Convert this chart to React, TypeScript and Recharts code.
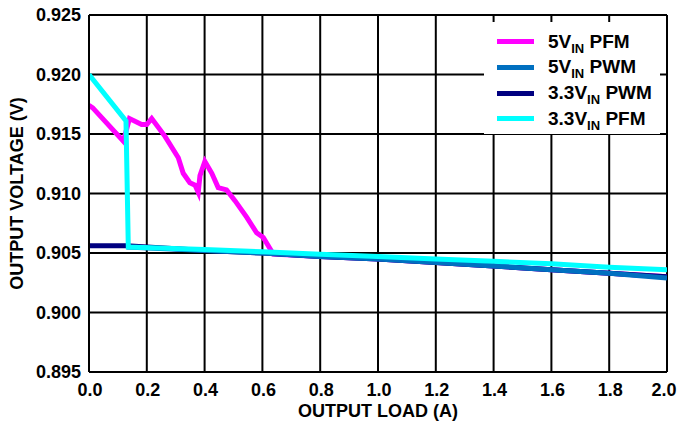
import React from "react";
import { LineChart, Line, XAxis, YAxis, CartesianGrid, Label } from "recharts";

const xTicks = [0, 0.2, 0.4, 0.6, 0.8, 1.0, 1.2, 1.4, 1.6, 1.8, 2.0];
const yTicks = [0.895, 0.9, 0.905, 0.91, 0.915, 0.92, 0.925];

// 5V PFM
const pfm5Load = [0.0, 0.013, 0.119, 0.14, 0.182, 0.2, 0.217, 0.263, 0.309, 0.326, 0.349, 0.367, 0.378, 0.384, 0.401, 0.425, 0.447, 0.476, 0.505, 0.546, 0.58, 0.603, 0.638, 0.8, 1.0, 1.2, 1.4, 1.6, 1.8, 2.0];
const pfm5Vout = [0.9174, 0.9172, 0.9144, 0.9163, 0.9158, 0.9158, 0.9163, 0.9148, 0.913, 0.9117, 0.9109, 0.9107, 0.9101, 0.9115, 0.9127, 0.9117, 0.9105, 0.9103, 0.9094, 0.908, 0.9067, 0.9063, 0.9049, 0.9047, 0.9045, 0.9042, 0.9039, 0.9036, 0.9033, 0.903];

// 5V PWM
const pwm5Load = [0.13, 0.4, 0.6, 0.8, 1.0, 1.2, 1.4, 1.6, 1.8, 2.0];
const pwm5Vout = [0.9055, 0.9052, 0.905, 0.9047, 0.9045, 0.9042, 0.9039, 0.9036, 0.9033, 0.9029];

// 3.3V PWM
const pwm33Load = [0.0, 0.13, 0.4, 0.6, 0.8, 1.0, 1.2, 1.4, 1.6, 1.8, 2.0];
const pwm33Vout = [0.9056, 0.9056, 0.9052, 0.905, 0.9047, 0.9045, 0.9042, 0.9039, 0.9036, 0.9033, 0.903];

// 3.3V PFM
const pfm33Load = [0.0, 0.128, 0.136, 0.4, 0.6, 0.8, 1.0, 1.2, 1.4, 1.6, 1.8, 2.0];
const pfm33Vout = [0.92, 0.9161, 0.9055, 0.9053, 0.9051, 0.9049, 0.9047, 0.9045, 0.9043, 0.9041, 0.9038, 0.9036];

const toPoints = (xs: number[], ys: number[]) => xs.map((x, i) => ({ x, y: ys[i] }));

const series = [
  { name: "5V", mode: "PFM", color: "#FF00FF", data: toPoints(pfm5Load, pfm5Vout), z: 0 },
  { name: "5V", mode: "PWM", color: "#0070C0", data: toPoints(pwm5Load, pwm5Vout), z: 2 },
  { name: "3.3V", mode: "PWM", color: "#000080", data: toPoints(pwm33Load, pwm33Vout), z: 1 },
  { name: "3.3V", mode: "PFM", color: "#00FFFF", data: toPoints(pfm33Load, pfm33Vout), z: 3 },
];
// drawing order: magenta, navy, blue, cyan on top
const drawOrder = [...series].sort((a, b) => a.z - b.z);

const font = "Arial, 'Liberation Sans', sans-serif";
const tickStyle = { fill: "#000", fontSize: 18, fontWeight: "bold", fontFamily: font };
const labelStyle = { fill: "#000", fontSize: 18, fontWeight: "bold", fontFamily: font };

function XTick(props: any) {
  const { x, y, payload } = props;
  // the last label sits right at the page edge, nudge it in a bit
  const dx = payload.value === 2 ? -3 : 1;
  return (
    <text x={x + dx} y={y} dy={14} textAnchor="middle" {...tickStyle}>
      {Number(payload.value).toFixed(1)}
    </text>
  );
}

function LegendBox() {
  return (
    <div style={{ position: "absolute", left: 484, top: 22, width: 176, height: 112, background: "#fff", fontFamily: font, fontWeight: "bold", fontSize: 19, color: "#000" }}>
      {series.map((s, i) => (
        <div key={s.name + s.mode} style={{ position: "absolute", left: 13, top: 7 + i * 25.8, height: 25, display: "flex", alignItems: "center" }}>
          <div style={{ width: 37, height: 5, background: s.color, marginRight: 14 }} />
          <span style={{ whiteSpace: "nowrap" }}>
            {s.name}
            <span style={{ fontSize: 13, position: "relative", top: 5 }}>IN</span> {s.mode}
          </span>
        </div>
      ))}
    </div>
  );
}

export default function App() {
  return (
    <div style={{ position: "absolute", left: 0, top: 0, width: 678, height: 428, background: "#fff" }}>
      <LineChart width={678} height={428} margin={{ top: 15, right: 11, bottom: 6, left: 0 }}>
        <CartesianGrid stroke="#000" strokeWidth={2} horizontalValues={yTicks} verticalValues={xTicks} />
        <XAxis
          type="number"
          dataKey="x"
          domain={[0, 2]}
          ticks={xTicks}
          tickLine={false}
          axisLine={{ stroke: "#000", strokeWidth: 2 }}
          tick={<XTick />}
          tickMargin={4}
          height={50}
          interval={0}
          allowDataOverflow
        >
          <Label value="OUTPUT LOAD (A)" position="insideBottom" offset={5} style={labelStyle} />
        </XAxis>
        <YAxis
          type="number"
          dataKey="y"
          domain={[0.895, 0.925]}
          ticks={yTicks}
          tickFormatter={(v: number) => v.toFixed(3)}
          tickLine={false}
          axisLine={{ stroke: "#000", strokeWidth: 2 }}
          tick={tickStyle}
          tickMargin={2}
          width={89}
          interval={0}
          allowDataOverflow
        >
          <Label value="OUTPUT VOLTAGE (V)" angle={-90} position="insideLeft" offset={17} style={{ ...labelStyle, textAnchor: "middle" }} />
        </YAxis>
        {drawOrder.map((s) => (
          <Line
            key={s.name + s.mode}
            data={s.data}
            dataKey="y"
            type="linear"
            stroke={s.color}
            strokeWidth={5}
            dot={false}
            isAnimationActive={false}
          />
        ))}
      </LineChart>
      <LegendBox />
    </div>
  );
}
